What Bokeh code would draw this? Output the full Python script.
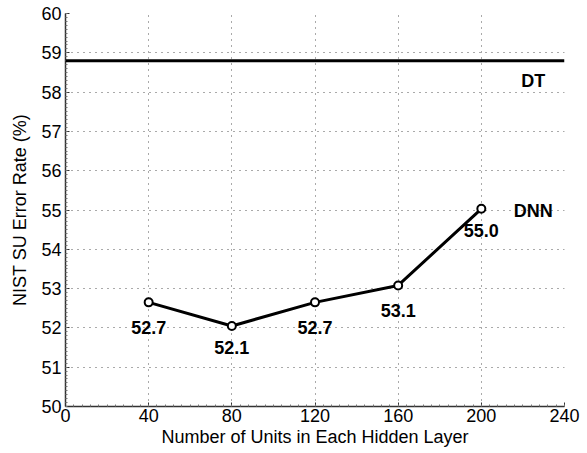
from bokeh.plotting import figure
from bokeh.models import ColumnDataSource, FixedTicker, Span, Label
from bokeh.core.properties import value
from bokeh.embed import file_html
from bokeh.resources import INLINE

units = [40, 80, 120, 160, 200]
dnn_err = [52.65, 52.05, 52.65, 53.08, 55.03]
dnn_labels = ["52.7", "52.1", "52.7", "53.1", "55.0"]
label_y = [52.0, 51.5, 52.0, 52.45, 54.47]
dt_err = 58.8
x_ticks = [0, 40, 80, 120, 160, 200, 240]
y_ticks = [50, 51, 52, 53, 54, 55, 56, 57, 58, 59, 60]

FONT = "Liberation Sans"

p = figure(width=587, height=453, x_range=(0, 240), y_range=(50, 60),
           output_backend="svg", toolbar_location=None,
           min_border_left=65, min_border_top=13, min_border_right=23, min_border_bottom=47)
p.outline_line_color = None
p.background_fill_color = "white"

for ax in (p.xaxis[0], p.yaxis[0]):
    ax.axis_line_color = "#333333"
    ax.axis_line_width = 1.5
    ax.major_tick_in = 4
    ax.major_tick_out = 0
    ax.minor_tick_in = 2
    ax.minor_tick_out = 0
    ax.major_tick_line_color = "#333333"
    ax.minor_tick_line_color = "#777777"
    ax.major_label_text_font = FONT
    ax.major_label_text_font_size = "18px"
    ax.major_label_text_color = "black"
    ax.axis_label_text_font = FONT
    ax.axis_label_text_font_size = "18px"
    ax.axis_label_text_font_style = "normal"
    ax.axis_label_text_color = "black"

p.xaxis[0].major_label_standoff = 2
p.xaxis[0].axis_label_standoff = 2
p.yaxis[0].major_label_standoff = 4
p.yaxis[0].axis_label_standoff = 8

p.xaxis.ticker = FixedTicker(ticks=x_ticks, minor_ticks=[i * 4 for i in range(61)])
p.yaxis.ticker = FixedTicker(ticks=y_ticks, minor_ticks=[50 + i * 0.1 for i in range(101)])
p.xaxis.axis_label = "Number of Units in Each Hidden Layer"
p.yaxis.axis_label = "NIST SU Error Rate (%)"

for g in (p.xgrid[0], p.ygrid[0]):
    g.grid_line_color = "#555555"
    g.grid_line_dash = "1 5"
    g.grid_line_width = 1

p.add_layout(Span(location=dt_err, dimension="width", line_color="black", line_width=3))

src = ColumnDataSource(dict(x=units, y=dnn_err, ly=label_y, t=dnn_labels))
p.line("x", "y", source=src, line_color="black", line_width=3)
p.scatter("x", "y", source=src, size=8, fill_color="white", line_color="black", line_width=2)
p.text("x", "ly", text="t", source=src, text_align="center", text_baseline="middle",
       text_font_size="18px", text_font_style="bold", text_font=value(FONT), text_color="black")

p.add_layout(Label(x=225, y=58.29, text="DT", text_align="center", text_baseline="middle",
                   text_font=FONT, text_font_size="18px", text_font_style="bold", text_color="black"))
p.add_layout(Label(x=225, y=54.98, text="DNN", text_align="center", text_baseline="middle",
                   text_font=FONT, text_font_size="18px", text_font_style="bold", text_color="black"))

open("out.html", "w").write(file_html(p, INLINE))
